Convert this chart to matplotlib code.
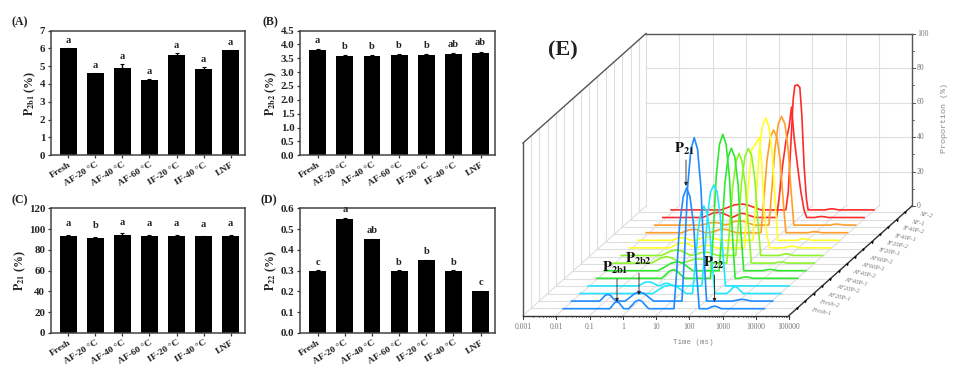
import math
import matplotlib
matplotlib.use("Agg")
import matplotlib.pyplot as plt
from matplotlib.transforms import Affine2D

plt.rcParams["font.family"] = "Liberation Serif"
plt.rcParams["mathtext.fontset"] = "stix"

groups = ["Fresh", "AF-20 °C", "AF-40 °C", "AF-60 °C", "IF-20 °C", "IF-40 °C", "LNF"]

p2b1 = [6.0, 4.6, 4.9, 4.2, 5.65, 4.85, 5.9]
p2b1_err = [0.02, 0.02, 0.2, 0.1, 0.1, 0.1, 0.03]
p2b1_sig = ["a", "a", "a", "a", "a", "a", "a"]

p2b2 = [3.8, 3.58, 3.58, 3.62, 3.63, 3.66, 3.7]
p2b2_err = [0.02, 0.03, 0.02, 0.02, 0.03, 0.03, 0.04]
p2b2_sig = ["a", "b", "b", "b", "b", "ab", "ab"]

p21 = [93.5, 91.5, 94.5, 93.3, 93.5, 93.0, 93.5]
p21_err = [1.0, 1.0, 1.5, 1.0, 0.7, 0.8, 1.0]
p21_sig = ["a", "b", "a", "a", "a", "a", "a"]

p22 = [0.3, 0.55, 0.45, 0.3, 0.35, 0.3, 0.2]
p22_err = [0.002, 0.004, 0.003, 0.002, 0.003, 0.002, 0.002]
p22_sig = ["c", "a", "ab", "b", "b", "b", "c"]

# T2 curves, log10(time) and proportion
fresh1_t = [-2, -0.6, -0.53, -0.46, -0.39, -0.32, -0.25, -0.18, -0.03, 0.07, 0.17, 0.27, 0.37, 0.47, 0.57, 1.33, 1.41, 1.5, 1.61, 1.71, 1.81, 1.92, 2.01, 2.09, 2.35, 2.45, 2.55, 2.65, 2.75, 4.05]
fresh1_p = [0, 0, 1.6, 3.4, 4, 3.4, 1.6, 0, 0, 2, 4.25, 5, 4.25, 2, 0, 0, 21, 49, 65, 70, 65, 49, 21, 0, 0, 1, 1.5, 1, 0, 0]
fresh2_t = [-2, -1.16, -1.07, -0.99, -0.91, -0.83, -0.75, -0.66, -0.39, -0.25, -0.1, 0.04, 0.18, 0.33, 0.47, 1.32, 1.4, 1.49, 1.59, 1.69, 1.79, 1.89, 1.98, 2.06, 2.85, 3.0, 3.12, 3.25, 3.4, 4.05]
fresh2_p = [0, 0, 1.6, 3.3, 3.9, 3.3, 1.6, 0, 0, 2.1, 4.4, 5.2, 4.4, 2.1, 0, 0, 28, 66, 88, 94.7, 88, 66, 28, 0, 0, 0.7, 1, 0.7, 0, 0]
af20_1_t = [-2, 0.2, 0.35, 0.55, 0.75, 0.9, 1.05, 1.2, 1.39, 1.46, 1.55, 1.64, 1.73, 1.82, 1.91, 1.99, 2.06, 2.42, 2.52, 2.6, 2.67, 2.74, 2.82, 2.92, 4.05]
af20_1_p = [0, 0, 2, 4.25, 5, 4.25, 2, 0, 0, 15, 35.5, 47, 50.7, 47, 35.5, 15, 0, 0, 1.6, 3.4, 4, 3.4, 1.6, 0, 0]
af20_2_t = [-2, -0.5, -0.4, -0.3, -0.19, -0.08, 0.02, 0.12, 0.22, 0.29, 0.36, 0.43, 0.5, 0.57, 1.42, 1.5, 1.59, 1.68, 1.78, 1.88, 1.97, 2.06, 2.13, 4.05]
af20_2_p = [0, 0, 0.9, 2, 2.3, 2, 0.9, 0, 0.6, 1.3, 1.5, 1.3, 0.6, 0, 0, 17.5, 41, 54.4, 58.5, 54.4, 41, 17.5, 0, 0]
af40_1_t = [-2, -0.04, 0.08, 0.2, 0.31, 0.42, 0.54, 0.66, 1.43, 1.51, 1.6, 1.7, 1.8, 1.9, 2.0, 2.09, 2.17, 2.3, 2.4, 2.5, 2.6, 2.7, 4.05]
af40_1_p = [0, 0, 2, 4.25, 5, 4.25, 2, 0, 0, 25, 58.5, 77.6, 83.5, 77.6, 58.5, 25, 0, 0, 0.5, 0.8, 0.5, 0, 0]
af40_2_t = [-2, -0.4, -0.2, 0, 0.2, 0.35, 0.5, 0.65, 1.44, 1.52, 1.61, 1.71, 1.81, 1.91, 2.01, 2.1, 2.18, 2.75, 2.86, 2.97, 3.08, 3.2, 4.05]
af40_2_p = [0, 0, 2.1, 4.4, 5.2, 4.4, 2.1, 0, 0, 21, 50, 66, 71, 66, 50, 21, 0, 0, 0.5, 0.8, 0.5, 0, 0]
af60_1_t = [-2, -0.85, -0.7, -0.55, -0.39, -0.25, -0.1, 0.05, 0.25, 0.4, 0.55, 0.7, 0.85, 1.0, 1.42, 1.5, 1.6, 1.7, 1.79, 1.88, 1.98, 2.08, 2.16, 2.85, 2.95, 3.05, 3.15, 3.25, 4.05]
af60_1_p = [0, 0, 1.5, 3.1, 3.7, 3.1, 1.5, 0, 1, 2.1, 2.5, 2.1, 1, 0, 0, 19, 44.5, 59, 63.6, 59, 44.5, 19, 0, 0, 0.4, 0.7, 0.4, 0, 0]
af60_2_t = [-2, -0.8, -0.65, -0.5, -0.34, -0.2, -0.05, 0.1, 0.28, 0.4, 0.52, 0.65, 0.78, 0.9, 1.44, 1.52, 1.62, 1.72, 1.82, 1.92, 2.02, 2.11, 2.19, 2.75, 2.85, 2.96, 3.07, 3.18, 4.05]
af60_2_p = [0, 0, 1.3, 2.7, 3.2, 2.7, 1.3, 0, 0.8, 1.7, 2, 1.7, 0.8, 0, 0, 18.6, 43.4, 57.7, 62, 57.7, 43.4, 18.6, 0, 0, 0.6, 1, 0.6, 0, 0]
if20_1_t = [-2, -0.8, -0.67, -0.53, -0.4, -0.27, -0.13, 0, 0.1, 0.22, 0.35, 0.48, 0.6, 1.45, 1.5, 1.55, 1.62, 1.67, 1.78, 1.9, 1.97, 2.04, 2.13, 2.22, 2.65, 2.76, 2.87, 2.98, 3.1, 4.05]
if20_1_p = [0, 0, 1.2, 2.5, 3, 2.5, 1.2, 0, 0.6, 1.3, 1.5, 1.3, 0, 0, 14, 32, 46, 57, 60, 64, 50, 23, 7, 0, 0, 0.7, 1.2, 0.7, 0, 0]
if20_2_t = [-2, -0.98, -0.88, -0.78, -0.68, -0.58, -0.48, -0.38, -0.3, -0.15, 0, 0.1, 0.2, 0.35, 0.5, 1.46, 1.54, 1.64, 1.74, 1.84, 1.94, 2.04, 2.13, 2.21, 2.8, 2.9, 3.0, 3.1, 3.2, 4.05]
if20_2_p = [0, 0, 0.6, 1.3, 1.5, 1.3, 0.6, 0, 0, 0.8, 1.7, 2, 1.7, 0.8, 0, 0, 21, 50, 66, 71, 66, 50, 21, 0, 0, 0.6, 1, 0.6, 0, 0]
if40_1_t = [-2, -0.93, -0.81, -0.7, -0.58, -0.46, -0.35, -0.23, -0.09, 0.05, 0.18, 0.31, 0.44, 0.57, 0.71, 1.45, 1.53, 1.63, 1.73, 1.83, 1.93, 2.03, 2.12, 2.2, 2.87, 2.97, 3.07, 3.17, 3.27, 4.05]
if40_1_p = [0, 0, 0.8, 1.7, 2, 1.7, 0.8, 0, 0, 0.8, 1.7, 2, 1.7, 0.8, 0, 0, 18, 41.7, 55.3, 59.5, 55.3, 41.7, 18, 0, 0, 0.4, 0.6, 0.4, 0, 0]
if40_2_t = [-2, -0.6, -0.47, -0.33, -0.2, -0.07, 0.05, 0.15, 0.3, 0.4, 0.55, 0.7, 0.85, 1.0, 1.44, 1.52, 1.62, 1.72, 1.82, 1.92, 2.02, 2.11, 2.19, 3.28, 3.38, 3.48, 3.58, 3.68, 4.05]
if40_2_p = [0, 0, 0.6, 1.3, 1.5, 1.3, 0.6, 0, 1, 2.1, 2.5, 2.1, 1, 0, 0, 19, 44, 58.6, 63, 58.6, 44, 19, 0, 0, 0.4, 0.6, 0.4, 0, 0]
xf1_t = [-2, -0.8, -0.65, -0.5, -0.34, -0.2, -0.05, 0.08, 0.2, 0.3, 0.38, 0.5, 0.62, 0.8, 1.42, 1.5, 1.6, 1.7, 1.8, 1.87, 1.95, 2.05, 2.15, 2.25, 2.33, 2.57, 2.67, 2.77, 2.87, 2.97, 4.05]
xf1_p = [0, 0, 1.2, 2.5, 3, 2.5, 1.2, 0, 1, 2, 2.4, 2, 1, 0, 0, 12, 30, 44, 53, 64, 46, 30, 15, 4, 0, 0, 0.4, 0.6, 0.4, 0, 0]
xf2_t = [-2, -0.5, -0.3, -0.1, 0.14, 0.3, 0.5, 0.7, 1.45, 1.52, 1.6, 1.67, 1.72, 1.8, 1.87, 1.93, 2.0, 2.07, 2.12, 2.63, 2.73, 2.83, 2.93, 3.03, 4.1]
xf2_p = [0, 0, 1.4, 2.9, 3.4, 2.9, 1.4, 0, 0, 10, 38, 64, 72, 72.5, 71, 55, 25, 6, 0, 0, 0.4, 0.7, 0.4, 0, 0]

curve_t = [fresh1_t, fresh2_t, af20_1_t, af20_2_t, af40_1_t, af40_2_t, af60_1_t, af60_2_t,
           if20_1_t, if20_2_t, if40_1_t, if40_2_t, xf1_t, xf2_t]
curve_p = [fresh1_p, fresh2_p, af20_1_p, af20_2_p, af40_1_p, af40_2_p, af60_1_p, af60_2_p,
           if20_1_p, if20_2_p, if40_1_p, if40_2_p, xf1_p, xf2_p]
sample_names = ["Fresh-1", "Fresh-2", "AF20P-1", "AF20P-2", "AF40P-1", "AF40P-2", "AF60P-1",
                "AF60P-2", "IF20P-1", "IF20P-2", "IF40P-1", "IF40P-2", "XF-1", "XF-2"]
curve_colors = ["#1f8bff", "#1f8bff", "#22e6ff", "#22e6ff", "#2fe82f", "#2fe82f", "#8cf52a",
                "#8cf52a", "#ffff2a", "#ffff2a", "#ff9f2a", "#ff9f2a", "#ff2a2a", "#ff2a2a"]

decade_labels = ["0.001", "0.01", "0.1", "1", "10", "100", "1000", "10000", "100000"]
minor_steps = [2, 3, 4, 5, 6, 7, 8, 9]
prop_ticks = [0, 20, 40, 60, 80, 100]
prop_minor = [10, 30, 50, 70, 90]

W, H = 966, 376
fig = plt.figure(figsize=(W / 100, H / 100), dpi=100)


def add_bars(box, values, errs, sig, ymax, yticks, fmt, ylab, lab_x, pad):
    left, top, right, bottom = box
    ax = fig.add_axes([left / W, 1 - bottom / H, (right - left) / W, (bottom - top) / H])
    x = range(len(groups))
    ax.bar(x, values, width=0.62, color="black", yerr=errs,
           error_kw=dict(ecolor="black", elinewidth=1, capsize=1.6, capthick=0.8))
    for i in x:
        ax.text(i, values[i] + errs[i] + pad * ymax, sig[i], ha="center", va="center",
                fontsize=7.5, fontweight="bold", color="#222222", clip_on=False)
    ax.set_xlim(-0.65, 6.53)
    ax.set_ylim(0, ymax)
    ax.set_xticks(list(x))
    ax.set_xticklabels(groups, rotation=32, ha="right", rotation_mode="anchor",
                       fontsize=6.8, fontweight="bold", color="#222222")
    ax.set_yticks(yticks)
    ax.set_yticklabels([fmt % t for t in yticks], fontsize=7.8, fontweight="bold", color="#222222")
    ax.tick_params(length=2.5, width=0.9, pad=1.5, color="#333333")
    for s in ax.spines.values():
        s.set_linewidth(1.1)
        s.set_color("#444444")
    ax.set_ylabel(ylab, fontsize=8.6, fontweight="bold", color="#222222", va="center")
    ax.yaxis.set_label_coords(lab_x, 0.5)
    return ax


add_bars((50.7, 30.5, 245, 155.3), p2b1, p2b1_err, p2b1_sig, 7, [0, 1, 2, 3, 4, 5, 6, 7], "%d",
         r"$\mathbf{P_{2b1}}$ (%)", -0.103, 0.06)
add_bars((300, 30.5, 495, 155.3), p2b2, p2b2_err, p2b2_sig, 4.5,
         [0, 0.5, 1, 1.5, 2, 2.5, 3, 3.5, 4, 4.5], "%.1f", r"$\mathbf{P_{2b2}}$ (%)", -0.145, 0.07)
add_bars((50.7, 208.3, 245, 333), p21, p21_err, p21_sig, 120, [0, 20, 40, 60, 80, 100, 120], "%d",
         r"$\mathbf{P_{21}}$ (%)", -0.155, 0.09)
add_bars((300, 208.3, 495, 333), p22, p22_err, p22_sig, 0.6, [0, 0.1, 0.2, 0.3, 0.4, 0.5, 0.6],
         "%.1f", r"$\mathbf{P_{22}}$ (%)", -0.145, 0.065)

for label, px, py in [("(A)", 20, 22), ("(B)", 270, 22), ("(C)", 20, 200), ("(D)", 269, 200)]:
    fig.text(px / W, 1 - py / H, label, ha="center", va="center", fontsize=8.5,
             fontweight="bold", color="#222222")

# panel E, oblique projection drawn on a pixel sized axes
ax3 = fig.add_axes([0, 0, 1, 1], zorder=-1)
ax3.set_xlim(0, W)
ax3.set_ylim(H, 0)
ax3.axis("off")

X0, Y0, DX, DZ, BX, BY = 523, 315.5, 33.25, 1.725, 123, 109.5


def place(log_t, w, prop):
    return X0 + DX * (log_t + 3) + BX * w, Y0 - BY * w - DZ * prop


def seg(p, q, **kw):
    ax3.plot([p[0], q[0]], [p[1], q[1]], **kw)


grid = dict(color="#dedede", lw=0.8, zorder=1)
frame = dict(color="#555555", lw=1.0, zorder=2)
depths = [(8.0 + 8.3 * i) / BX for i in range(14)]

for d in range(-3, 6):
    seg(place(d, 0, 0), place(d, 1, 0), **grid)
    seg(place(d, 1, 0), place(d, 1, 100), **grid)
for t in prop_ticks[1:-1]:
    seg(place(-3, 1, t), place(5, 1, t), **grid)
for w in depths:
    seg(place(-3, w, 0), place(5, w, 0), **grid)
    seg(place(-3, w, 0), place(-3, w, 100), **grid)

seg(place(-3, 0, 0), place(-3, 0, 100), **frame)
seg(place(-3, 0, 100), place(-3, 1, 100), **frame)
seg(place(-3, 1, 100), place(5, 1, 100), **frame)
seg(place(5, 1, 0), place(5, 1, 100), **frame)
seg(place(-3, 0, 0), place(5, 0, 0), color="#333333", lw=1.0, zorder=2)
seg(place(5, 0, 0), place(5, 1, 0), color="#333333", lw=1.0, zorder=2)

for i in range(13, -1, -1):
    tf = Affine2D.from_values(DX, 0, 0, -DZ, 629.75 + 8.3 * i, 308.7 - 7.6 * i)
    ax3.plot(curve_t[i], curve_p[i], color=curve_colors[i], lw=1.2, solid_joinstyle="round",
             transform=tf + ax3.transData, zorder=3 + (13 - i))
    mx, my = place(5, depths[i], 0)
    ax3.plot([mx], [my], marker=(3, 0, -48), ms=2.6, color="black", mew=0, zorder=20)
    ax3.text(mx + 14, my + 3, sample_names[i], fontsize=4.6, style="italic", color="#777777",
             rotation=-12, ha="left", va="center", family="Liberation Serif")

for d, lab in zip(range(-3, 6), decade_labels):
    px, py = place(d, 0, 0)
    seg((px, py), (px, py + 3), color="#333333", lw=0.7, zorder=2)
    ax3.text(px, py + 11.5, lab, ha="center", va="center", fontsize=5.6, color="#777777",
             family="Liberation Serif")
    if d < 5:
        for m in minor_steps:
            qx = px + DX * math.log10(m)
            seg((qx, py), (qx, py + 1.6), color="#333333", lw=0.5, zorder=2)

for t in prop_ticks:
    px, py = place(5, 1, t)
    seg((px, py), (px + 3, py), color="#555555", lw=0.7, zorder=2)
    ax3.text(px + 5, py, str(t), ha="left", va="center", fontsize=5.6, color="#777777",
             family="Liberation Serif")
for t in prop_minor:
    px, py = place(5, 1, t)
    seg((px, py), (px + 1.8, py), color="#555555", lw=0.6, zorder=2)

ax3.text(693, 343, "Time (ms)", ha="center", va="center", fontsize=5.4, color="#888888",
         family="Liberation Mono")
ax3.text(945, 118, "Proportion (%)", ha="center", va="center", rotation=90, fontsize=6.0,
         color="#888888", family="Liberation Mono")

ax3.text(563, 50, "(E)", ha="center", va="center", fontsize=16, fontweight="bold", color="#222222")

for label, tx, ty, ax_, y1, y2 in [
    (r"$\mathbf{P_{21}}$", 684, 149, 686, 160, 186),
    (r"$\mathbf{P_{2b1}}$", 615, 268, 617, 279, 302),
    (r"$\mathbf{P_{2b2}}$", 638, 259, 639, 273, 295),
    (r"$\mathbf{P_{22}}$", 714, 263, 714.5, 275, 302),
]:
    ax3.text(tx, ty, label, ha="center", va="center", fontsize=10.5, color="#111111", zorder=30)
    ax3.annotate("", xy=(ax_, y2), xytext=(ax_, y1), zorder=30,
                 arrowprops=dict(arrowstyle="-|>", color="#222222", lw=0.6, mutation_scale=5,
                                 shrinkA=0, shrinkB=0))

plt.savefig("out.png", dpi=100)
